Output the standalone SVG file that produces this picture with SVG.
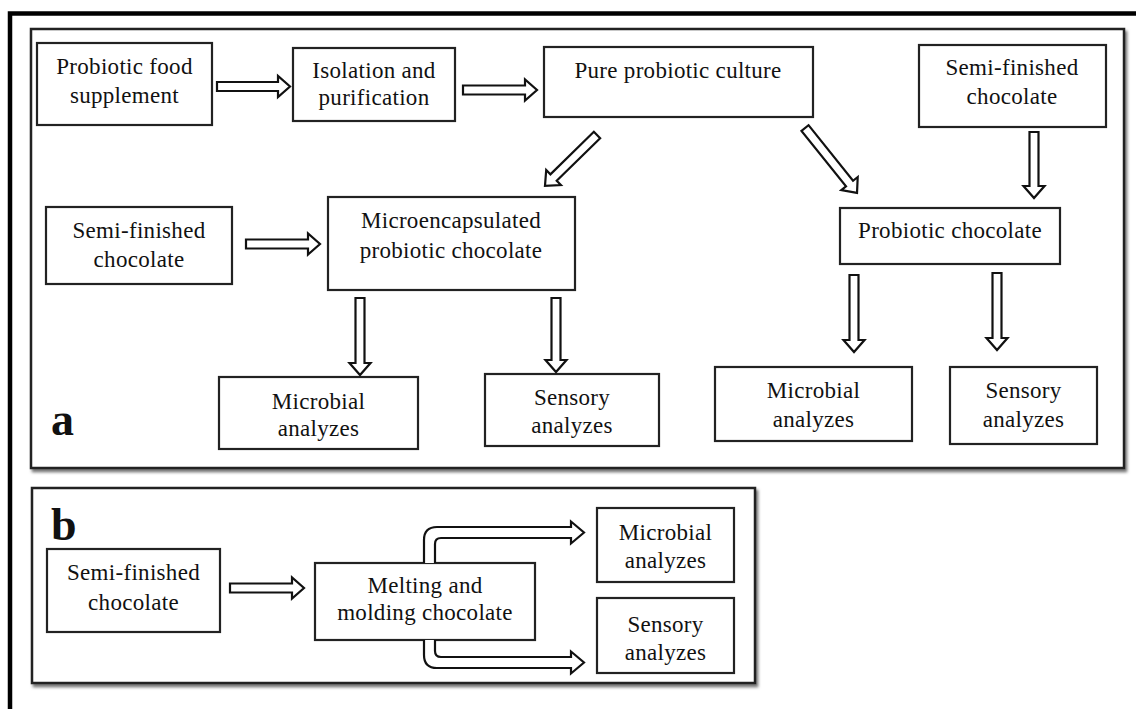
<svg xmlns="http://www.w3.org/2000/svg" width="1136" height="709" viewBox="0 0 1136 709">
<defs>
<filter id="sh" x="-5%" y="-5%" width="110%" height="115%"><feDropShadow dx="2" dy="3" stdDeviation="1.8" flood-color="#000" flood-opacity="0.55"/></filter>
</defs>
<style>
.panel{fill:#fff;stroke:#222;stroke-width:2.5}
.box{fill:#fff;stroke:#222;stroke-width:2.2}
.arr{fill:#fff;stroke:#111;stroke-width:2.2;stroke-linejoin:miter}
.t{font-family:"Liberation Serif","Times New Roman",serif;font-size:23px;fill:#111;text-anchor:middle;letter-spacing:0.3px}
.lbl{font-family:"Liberation Serif","Times New Roman",serif;font-size:46px;font-weight:bold;fill:#111}
</style>
<rect width="1136" height="709" fill="#fff"/>
<path d="M10,709 V13.5 H1136" fill="none" stroke="#000" stroke-width="4.5"/>
<g id="panel-a">
<rect class="panel" x="31" y="29" width="1093" height="439" filter="url(#sh)"/>
<text class="lbl" x="51" y="435">a</text>
</g>
<g id="panel-b">
<rect class="panel" x="32" y="488" width="723" height="195" filter="url(#sh)"/>
<text class="lbl" x="51" y="540">b</text>
</g>
<g id="n1"><rect class="box" x="37" y="43" width="175" height="82"/><text class="t" x="124.5" y="74">Probiotic food</text><text class="t" x="124.5" y="103">supplement</text></g>
<g id="n2"><rect class="box" x="293" y="48" width="162" height="73"/><text class="t" x="374" y="78">Isolation and</text><text class="t" x="374" y="105">purification</text></g>
<g id="n3"><rect class="box" x="544" y="47" width="269" height="70"/><text class="t" x="678" y="78">Pure probiotic culture</text></g>
<g id="n4"><rect class="box" x="919" y="45" width="187" height="82"/><text class="t" x="1012" y="75">Semi-finished</text><text class="t" x="1012" y="104">chocolate</text></g>
<g id="n5"><rect class="box" x="46" y="207" width="186" height="77"/><text class="t" x="139" y="238">Semi-finished</text><text class="t" x="139" y="267">chocolate</text></g>
<g id="n6"><rect class="box" x="328" y="197" width="247" height="93"/><text class="t" x="451" y="228">Microencapsulated</text><text class="t" x="451" y="258">probiotic chocolate</text></g>
<g id="n7"><rect class="box" x="840" y="208" width="220" height="56"/><text class="t" x="950" y="238">Probiotic chocolate</text></g>
<g id="n8"><rect class="box" x="219" y="377" width="199" height="72"/><text class="t" x="318.5" y="409">Microbial</text><text class="t" x="318.5" y="436">analyzes</text></g>
<g id="n9"><rect class="box" x="485" y="374" width="174" height="72"/><text class="t" x="572" y="405">Sensory</text><text class="t" x="572" y="433">analyzes</text></g>
<g id="n10"><rect class="box" x="715" y="367" width="197" height="74"/><text class="t" x="813.5" y="398">Microbial</text><text class="t" x="813.5" y="427">analyzes</text></g>
<g id="n11"><rect class="box" x="950" y="367" width="147" height="77"/><text class="t" x="1023.5" y="398">Sensory</text><text class="t" x="1023.5" y="427">analyzes</text></g>
<g id="n12"><rect class="box" x="47" y="549" width="173" height="83"/><text class="t" x="133.5" y="580">Semi-finished</text><text class="t" x="133.5" y="610">chocolate</text></g>
<g id="n13"><rect class="box" x="315" y="563" width="220" height="77"/><text class="t" x="425" y="593">Melting and</text><text class="t" x="425" y="620">molding chocolate</text></g>
<g id="n14"><rect class="box" x="597" y="508" width="137" height="74"/><text class="t" x="665.5" y="540">Microbial</text><text class="t" x="665.5" y="568">analyzes</text></g>
<g id="n15"><rect class="box" x="597" y="598" width="137" height="75"/><text class="t" x="665.5" y="632">Sensory</text><text class="t" x="665.5" y="660">analyzes</text></g>
<g id="connectors">
<polygon class="arr" points="217,82 278,82 278,76 290,86.5 278,97 278,91 217,91"/>
<polygon class="arr" points="463,85.5 525,85.5 525,79.5 537,90 525,100.5 525,94.5 463,94.5"/>
<polygon class="arr" points="246,239.5 308,239.5 308,233.5 320,244 308,254.5 308,248.5 246,248.5"/>
<polygon class="arr" points="230,583.5 292,583.5 292,577.5 304,588 292,598.5 292,592.5 230,592.5"/>
<polygon class="arr" points="1029.5,132 1038.5,132 1038.5,186 1044.5,186 1034,198 1023.5,186 1029.5,186"/>
<polygon class="arr" points="355.5,298 364.5,298 364.5,363 370.5,363 360,375 349.5,363 355.5,363"/>
<polygon class="arr" points="551.5,298 560.5,298 560.5,360 566.5,360 556,372 545.5,360 551.5,360"/>
<polygon class="arr" points="849.5,275 858.5,275 858.5,340 864.5,340 854,352 843.5,340 849.5,340"/>
<polygon class="arr" points="992.5,273 1001.5,273 1001.5,338 1007.5,338 997,350 986.5,338 992.5,338"/>
<polygon class="arr" transform="translate(597,135) rotate(135.6)" points="0,-4.5 60.8,-4.5 60.8,-10.5 72.8,0 60.8,10.5 60.8,4.5 0,4.5"/>
<polygon class="arr" transform="translate(805,128) rotate(51.3)" points="0,-4.5 71.2,-4.5 71.2,-10.5 83.2,0 71.2,10.5 71.2,4.5 0,4.5"/>
<path class="arr" d="M424,563 V540 Q424,527 437,527 H571 V521.5 L584,532.5 L571,543.5 V538 H441 Q435,538 435,544 V563"/>
<path class="arr" d="M424,640 V655 Q424,668 437,668 H571 V673.5 L584,662.5 L571,651.5 V657 H441 Q435,657 435,651 V640"/>
</g>
</svg>
